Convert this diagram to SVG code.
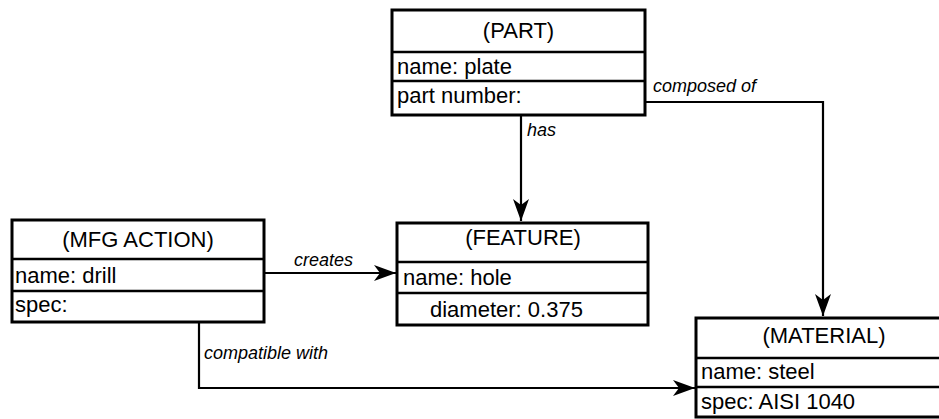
<svg xmlns="http://www.w3.org/2000/svg" width="939" height="419" viewBox="0 0 939 419">
<style>
.box{fill:#fff;stroke:#000;stroke-width:3}
.div{stroke:#000;stroke-width:2.5}
.t{font-family:"Liberation Sans",Arial,sans-serif;font-size:22px;fill:#000}
.c{text-anchor:middle}
.lbl{font-family:"Liberation Sans",Arial,sans-serif;font-size:18px;font-style:italic;fill:#000}
.con{fill:none;stroke:#000;stroke-width:2.2}
</style>
<defs>
<marker id="arr" markerUnits="userSpaceOnUse" markerWidth="24" markerHeight="18" refX="22" refY="8" orient="auto">
<path d="M0,0 L22,8 L0,16 L6,8 z" fill="#000"/>
</marker>
</defs>
<g id="connectors">
<polyline class="con" points="645,102 823,102 823,316" marker-end="url(#arr)"/>
<line class="con" x1="521" y1="115" x2="521" y2="221" marker-end="url(#arr)"/>
<line class="con" x1="264" y1="273" x2="396" y2="273" marker-end="url(#arr)"/>
<polyline class="con" points="199,322 199,388 695,388" marker-end="url(#arr)"/>
<text class="lbl" x="653" y="92">composed of</text>
<text class="lbl" x="527" y="136">has</text>
<text class="lbl" x="294" y="266">creates</text>
<text class="lbl" x="204" y="359">compatible with</text>
</g>
<g id="part">
<rect class="box" x="392" y="10" width="253" height="105"/>
<line class="div" x1="392" y1="52" x2="645" y2="52"/>
<line class="div" x1="392" y1="81" x2="645" y2="81"/>
<text class="t c" x="518.5" y="38">(PART)</text>
<text class="t" x="397" y="74">name: plate</text>
<text class="t" x="397" y="103">part number:</text>
</g>
<g id="mfg-action">
<rect class="box" x="12" y="220" width="252" height="102"/>
<line class="div" x1="12" y1="259" x2="264" y2="259"/>
<line class="div" x1="12" y1="291" x2="264" y2="291"/>
<text class="t c" x="138" y="247">(MFG ACTION)</text>
<text class="t" x="15" y="283">name: drill</text>
<text class="t" x="15" y="312">spec:</text>
</g>
<g id="feature">
<rect class="box" x="397" y="223" width="251" height="102"/>
<line class="div" x1="397" y1="262" x2="648" y2="262"/>
<line class="div" x1="397" y1="293" x2="648" y2="293"/>
<text class="t c" x="523" y="245">(FEATURE)</text>
<text class="t" x="403" y="285">name: hole</text>
<text class="t" x="430" y="317">diameter: 0.375</text>
</g>
<g id="material">
<rect class="box" x="696" y="318" width="262" height="99"/>
<line class="div" x1="696" y1="358" x2="958" y2="358"/>
<line class="div" x1="696" y1="387" x2="958" y2="387"/>
<text class="t c" x="824" y="343">(MATERIAL)</text>
<text class="t" x="701" y="379">name: steel</text>
<text class="t" x="701" y="409">spec: AISI 1040</text>
</g>
</svg>
